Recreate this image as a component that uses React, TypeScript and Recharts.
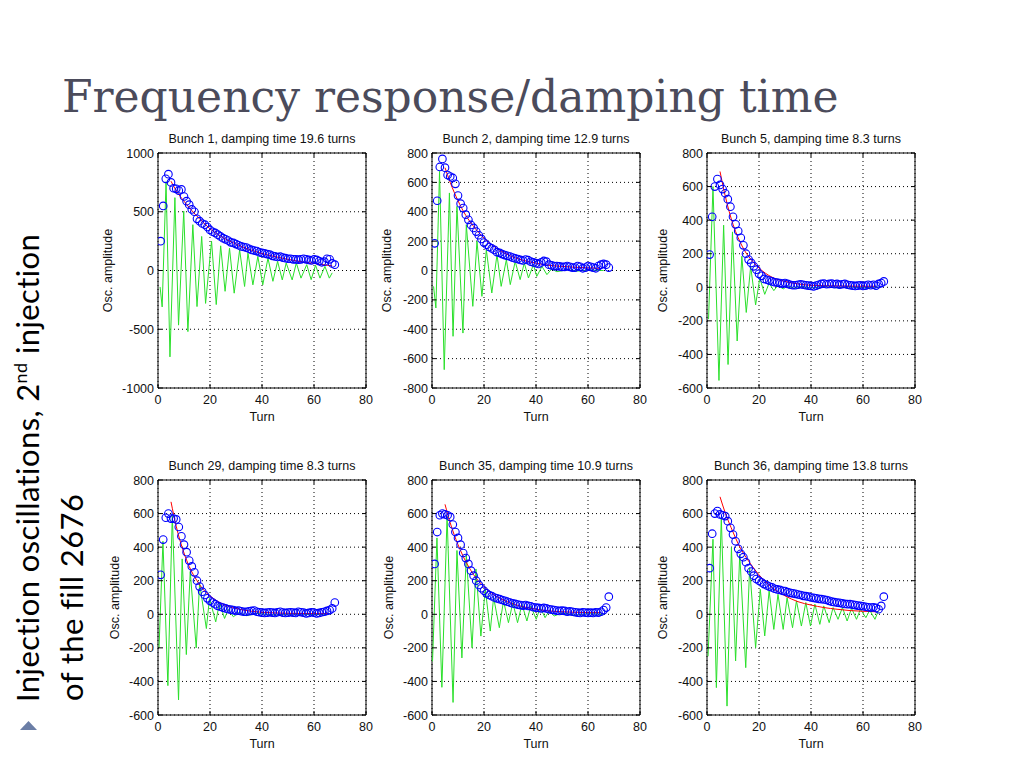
import React from 'react';
import { CartesianGrid, ComposedChart, Line, ReferenceArea, XAxis, YAxis } from 'recharts';

// ---------- data ----------

const TURNS = [
  1, 2, 3, 4, 5, 6, 7, 8, 9, 10, 11, 12, 13, 14, 15, 16, 17, 18, 19, 20,
  21, 22, 23, 24, 25, 26, 27, 28, 29, 30, 31, 32, 33, 34, 35, 36, 37, 38, 39, 40,
  41, 42, 43, 44, 45, 46, 47, 48, 49, 50, 51, 52, 53, 54, 55, 56, 57, 58, 59, 60,
  61, 62, 63, 64, 65, 66, 67, 68,
];
const X_TICKS = [0, 20, 40, 60, 80];
const Y_TICKS_1000 = [-1000, -500, 0, 500, 1000];
const Y_TICKS_800 = [-800, -600, -400, -200, 0, 200, 400, 600, 800];
const Y_TICKS_600 = [-600, -400, -200, 0, 200, 400, 600, 800];

// Bunch 1
const B1_ENV = [
  250, 550, 780, 820, 750, 700, 695, 680, 690, 630, 590, 560, 520, 500, 440, 420, 400, 390, 370, 345,
  330, 320, 305, 290, 275, 265, 255, 240, 235, 225, 215, 205, 200, 195, 185, 175, 170, 165, 155, 150,
  145, 140, 135, 125, 120, 115, 118, 110, 105, 100, 100, 95, 95, 92, 95, 100, 95, 90, 85, 95,
  90, 80, 70, 75, 100, 95, 60, 50,
];
const B1_OSC_T = [
  0.8, 1.6, 3.1, 4.6, 6.5, 7.9, 9.9, 11.5, 13.4, 15, 16.8, 18.3, 20.6, 22.4, 24.1, 25.8, 27.5, 29.3, 31.4, 33.3,
  34.6, 36.5, 38.4, 40.3, 42.3, 44.2, 46, 47.8, 49.3, 51.6, 53.2, 55, 57.2, 58.9, 60.6, 62.3, 64.2, 65.9, 67,
];
const B1_OSC_V = [
  -140, -310, 756, -735, 620, -465, 505, -520, 390, -307, 290, -280, 250, -290, 210, -177, 190, -193, 176, -136,
  148, -122, 120, -122, 105, -92, 78, -80, 64, -80, 64, -65, 50, -78, 45, -65, 35, -65, -20,
];
const B1_FIT_T = [5, 7, 10, 13, 16, 20, 25, 30, 35, 40, 45, 50, 55, 60, 65, 67];
const B1_FIT_V = [760, 680, 590, 510, 440, 355, 280, 225, 180, 145, 118, 95, 75, 60, 45, 40];

// Bunch 2
const B2_ENV = [
  185, 475, 705, 760, 700, 650, 640, 630, 590, 510, 455, 425, 380, 345, 310, 290, 265, 240, 215, 190,
  175, 160, 150, 140, 125, 120, 112, 105, 100, 95, 88, 82, 78, 72, 68, 75, 70, 60, 55, 50,
  45, 55, 65, 60, 40, 35, 30, 30, 28, 25, 25, 30, 25, 20, 20, 30, 25, 15, 20, 30,
  25, 20, 15, 30, 40, 45, 40, 20,
];
const B2_OSC_T = [
  0.6, 1.5, 2.9, 4.7, 6.7, 8.1, 9.6, 11.9, 13.2, 15.7, 17.3, 19.2, 20.9, 23, 25, 26.6, 28.6, 30.1, 32, 33.9,
  35.5, 37.1, 39, 40.3, 42.3, 44.2, 46, 48, 52, 56, 60, 66,
];
const B2_OSC_V = [
  -108, -255, 675, -675, 528, -448, 437, -426, 312, -244, 200, -176, 141, -153, 108, -108, 74, -96, 62, -62,
  51, -51, 40, -40, 28, -28, 10, -8, 5, -4, 3, 0,
];
const B2_FIT_T = [5, 7, 10, 13, 16, 20, 25, 30, 35, 40, 45, 50, 55, 60, 65];
const B2_FIT_V = [700, 600, 475, 375, 300, 220, 150, 100, 70, 50, 35, 28, 22, 18, 15];

// Bunch 5
const B5_ENV = [
  195, 420, 600, 645, 610, 585, 560, 525, 480, 420, 375, 335, 295, 250, 200, 165, 145, 125, 105, 80,
  68, 50, 45, 40, 35, 30, 28, 25, 22, 25, 20, 15, 12, 12, 15, 18, 15, 12, 10, 8,
  5, 10, 15, 20, 22, 18, 20, 22, 18, 20, 15, 18, 20, 15, 12, 10, 8, 10, 12, 8,
  10, 15, 12, 15, 10, 20, 25, 35,
];
const B5_OSC_T = [
  0.6, 2.3, 4.6, 6.4, 8.1, 9.8, 11.6, 13.4, 15.1, 16.8, 18.7, 20.3, 22.2, 23.9, 25.7, 27.3, 29.3, 31, 33, 36,
  40, 45, 50, 55, 60, 66,
];
const B5_OSC_V = [
  -190, 600, -555, 370, -460, 330, -320, 185, -150, 125, -105, 55, -42, 25, -20, 12, -10, 8, -6, 5,
  -4, 4, -3, 3, -3, 2,
];
const B5_FIT_T = [5, 7, 10, 12, 15, 17, 20, 25, 30, 35, 40, 50, 60, 65];
const B5_FIT_V = [690, 545, 375, 295, 205, 165, 115, 60, 35, 20, 12, 8, 6, 6];

// Bunch 29
const B29_ENV = [
  235, 445, 575, 600, 570, 570, 565, 520, 465, 415, 370, 320, 285, 250, 200, 165, 135, 115, 95, 80,
  70, 60, 50, 45, 40, 35, 30, 28, 25, 20, 22, 18, 15, 15, 18, 20, 22, 15, 12, 10,
  8, 10, 12, 10, 8, 12, 15, 10, 8, 10, 12, 10, 8, 15, 12, 10, 5, 8, 12, 10,
  5, 8, 12, 15, 20, 25, 35, 70,
];
const B29_OSC_T = [
  0.4, 1.9, 3.8, 5.5, 7.9, 9.3, 10.9, 12.4, 14.7, 16, 18.6, 19.8, 22.2, 23.7, 25.6, 27, 29, 31, 34, 38,
  45, 52, 60, 66,
];
const B29_OSC_V = [
  -200, 435, -425, 590, -510, 330, -240, 255, -200, 185, -85, 95, -45, 70, -25, 30, -15, 10, -8, 5,
  -4, 3, -2, 2,
];
const B29_FIT_T = [5, 7, 10, 12, 15, 17, 20, 25, 30, 35, 40, 50, 60, 65];
const B29_FIT_V = [670, 525, 365, 285, 200, 155, 110, 60, 35, 20, 12, 6, 4, 4];

// Bunch 35
const B35_ENV = [
  300, 490, 590, 600, 595, 590, 580, 535, 490, 455, 415, 365, 335, 300, 260, 230, 200, 175, 155, 140,
  125, 115, 108, 100, 95, 90, 85, 80, 75, 70, 65, 62, 58, 55, 52, 55, 50, 48, 42, 40,
  38, 35, 38, 35, 30, 28, 25, 22, 20, 22, 20, 15, 18, 15, 12, 10, 8, 12, 10, 8,
  10, 8, 12, 10, 15, 25, 40, 105,
];
const B35_OSC_T = [
  0.2, 1.9, 3.8, 5.8, 8.1, 9.6, 11.5, 13.2, 15.4, 16.9, 18.8, 20.5, 22.4, 23.7, 25.9, 27.5, 29.4, 31.1, 32.9, 34.6,
  36.5, 38, 40.1, 41.6, 43.5, 45, 47, 50, 55, 60, 66,
];
const B35_OSC_V = [
  -280, 455, -435, 585, -525, 380, -260, 355, -200, 270, -130, 150, -100, 100, -80, 80, -50, 70, -50, 60,
  -40, 50, -30, 40, -20, 20, -10, 8, -5, 4, 0,
];
const B35_FIT_T = [5, 7, 10, 12, 15, 17, 20, 25, 30, 35, 40, 45, 50, 55, 60, 65];
const B35_FIT_V = [655, 545, 415, 345, 260, 215, 165, 105, 68, 45, 30, 20, 15, 12, 10, 10];

// Bunch 36
const B36_ENV = [
  275, 480, 600, 615, 595, 590, 585, 555, 515, 475, 435, 390, 360, 340, 310, 275, 255, 230, 210, 200,
  190, 180, 172, 165, 160, 152, 148, 145, 140, 138, 132, 128, 125, 122, 118, 115, 110, 108, 105, 100,
  98, 95, 92, 90, 88, 85, 80, 75, 72, 70, 68, 65, 62, 60, 60, 58, 55, 52, 50, 48,
  45, 42, 40, 42, 38, 30, 50, 105,
];
const B36_OSC_T = [
  0.4, 2.3, 3.6, 5.5, 7.7, 9.4, 11, 12.6, 14.9, 16.4, 18.7, 20.5, 22.2, 23.9, 25.7, 27.3, 29.3, 30.8, 32.9, 34.4,
  36.3, 38, 39.8, 41.5, 43.4, 44.9, 47, 48.5, 50.4, 52.1, 53.9, 55.6, 57.5, 59, 61.1, 62.6, 64.6, 65.9,
];
const B36_OSC_V = [
  -250, 447, -437, 577, -547, 398, -278, 358, -318, 278, -199, 149, -129, 139, -90, 119, -90, 99, -80, 80,
  -70, 70, -70, 60, -60, 50, -50, 40, -30, 40, -40, 36, -30, 30, -20, 24, -30, 20,
];
const B36_FIT_T = [5, 7, 10, 12, 15, 17, 20, 25, 30, 35, 40, 45, 50, 55, 60, 65];
const B36_FIT_V = [700, 605, 490, 420, 340, 295, 235, 160, 110, 75, 55, 40, 30, 22, 18, 15];

// ---------- layout ----------

const PLOT_W = 208;
const PLOT_H = 235;
const M_TOP = 25;
const M_RIGHT = 12;
const Y_W = 60;
const X_H = 35;
const AX_FONT = '"Liberation Sans", Arial, sans-serif';

function pairs(t: number[], v: number[]) {
  return t.map((x, i) => ({ t: x, v: v[i] }));
}

const XTick = (props: any) => {
  const { x, y, payload } = props;
  return (
    <g>
      <line x1={x} x2={x} y1={y} y2={y - 4} stroke="#000" />
      <line x1={x} x2={x} y1={y - PLOT_H} y2={y - PLOT_H + 4} stroke="#000" />
      <text x={x} y={y + 15.5} textAnchor="middle" fontSize={12.5} fontFamily={AX_FONT} fill="#111">
        {payload.value}
      </text>
    </g>
  );
};

const YTick = (props: any) => {
  const { x, y, payload } = props;
  return (
    <g>
      <line x1={x} x2={x + 4} y1={y} y2={y} stroke="#000" />
      <line x1={x + PLOT_W} x2={x + PLOT_W - 4} y1={y} y2={y} stroke="#000" />
      <text x={x - 4} y={y + 4.5} textAnchor="end" fontSize={12.5} fontFamily={AX_FONT} fill="#111">
        {payload.value}
      </text>
    </g>
  );
};

interface SubplotProps {
  left: number;
  top: number;
  yDomain: [number, number];
  yTicks: number[];
  env: number[];
  oscT: number[];
  oscV: number[];
  fitT: number[];
  fitV: number[];
}

const Subplot: React.FC<SubplotProps> = ({ left, top, yDomain, yTicks, env, oscT, oscV, fitT, fitV }) => (
  <div style={{ position: 'absolute', left: left - Y_W, top: top - M_TOP }}>
    <ComposedChart
      width={Y_W + PLOT_W + M_RIGHT}
      height={M_TOP + PLOT_H + X_H}
      margin={{ top: M_TOP, right: M_RIGHT, bottom: 0, left: 0 }}
    >
      <CartesianGrid stroke="#000" strokeDasharray="1 3" />
      <XAxis
        type="number"
        dataKey="t"
        domain={[0, 80]}
        ticks={X_TICKS}
        interval={0}
        height={X_H}
        axisLine={false}
        tickLine={false}
        tickSize={0}
        tickMargin={0}
        tick={<XTick />}
        allowDataOverflow
      />
      <YAxis
        type="number"
        domain={yDomain}
        ticks={yTicks}
        interval={0}
        width={Y_W}
        axisLine={false}
        tickLine={false}
        tickSize={0}
        tickMargin={0}
        tick={<YTick />}
        allowDataOverflow
      />
      <Line
        data={pairs(oscT, oscV)}
        dataKey="v"
        type="linear"
        stroke="#2be02b"
        strokeWidth={1}
        dot={false}
        activeDot={false}
        isAnimationActive={false}
      />
      <Line
        data={pairs(TURNS, env)}
        dataKey="v"
        stroke="none"
        dot={{ r: 3.8, stroke: '#0000ff', strokeWidth: 1.1, fill: 'none' }}
        activeDot={false}
        isAnimationActive={false}
      />
      <Line
        data={pairs(fitT, fitV)}
        dataKey="v"
        type="monotone"
        stroke="#ff0000"
        strokeWidth={1}
        dot={false}
        activeDot={false}
        isAnimationActive={false}
      />
      <ReferenceArea x1={0} x2={80} y1={yDomain[0]} y2={yDomain[1]} fill="none" stroke="#000" strokeWidth={1} />
    </ComposedChart>
  </div>
);

const PLOTS = [
  { title: 'Bunch 1, damping time 19.6 turns', left: 158, top: 153, yDomain: [-1000, 1000] as [number, number], yTicks: Y_TICKS_1000, gap: 50, env: B1_ENV, oscT: B1_OSC_T, oscV: B1_OSC_V, fitT: B1_FIT_T, fitV: B1_FIT_V },
  { title: 'Bunch 2, damping time 12.9 turns', left: 432, top: 153, yDomain: [-800, 800] as [number, number], yTicks: Y_TICKS_800, gap: 45, env: B2_ENV, oscT: B2_OSC_T, oscV: B2_OSC_V, fitT: B2_FIT_T, fitV: B2_FIT_V },
  { title: 'Bunch 5, damping time 8.3 turns', left: 707, top: 153, yDomain: [-600, 800] as [number, number], yTicks: Y_TICKS_600, gap: 44, env: B5_ENV, oscT: B5_OSC_T, oscV: B5_OSC_V, fitT: B5_FIT_T, fitV: B5_FIT_V },
  { title: 'Bunch 29, damping time 8.3 turns', left: 158, top: 480, yDomain: [-600, 800] as [number, number], yTicks: Y_TICKS_600, gap: 43, env: B29_ENV, oscT: B29_OSC_T, oscV: B29_OSC_V, fitT: B29_FIT_T, fitV: B29_FIT_V },
  { title: 'Bunch 35, damping time 10.9 turns', left: 432, top: 480, yDomain: [-600, 800] as [number, number], yTicks: Y_TICKS_600, gap: 43, env: B35_ENV, oscT: B35_OSC_T, oscV: B35_OSC_V, fitT: B35_FIT_T, fitV: B35_FIT_V },
  { title: 'Bunch 36, damping time 13.8 turns', left: 707, top: 480, yDomain: [-600, 800] as [number, number], yTicks: Y_TICKS_600, gap: 44, env: B36_ENV, oscT: B36_OSC_T, oscV: B36_OSC_V, fitT: B36_FIT_T, fitV: B36_FIT_V },
];

export default function App() {
  return (
    <div style={{ position: 'absolute', left: 0, top: 0, width: 1024, height: 768, background: '#fff', overflow: 'hidden' }}>
      {PLOTS.map((p) => (
        <Subplot key={p.title} {...p} />
      ))}
      <svg width={1024} height={768} style={{ position: 'absolute', left: 0, top: 0, pointerEvents: 'none' }}>
        <text x={62} y={112} fontFamily='"DejaVu Serif", serif' fontSize={44} fill="#4b4b5b">
          Frequency response/damping time
        </text>

        <text transform="translate(38.5,702) rotate(-90)" fontFamily="Lato, sans-serif" fontSize={31} letterSpacing={0.4} fill="#000">
          Injection oscillations, 2<tspan fontSize={18} dy={-12}>nd</tspan>
          <tspan dy={12}> injection</tspan>
        </text>
        <text transform="translate(83,701) rotate(-90)" fontFamily="Lato, sans-serif" fontSize={31} letterSpacing={0.4} fill="#000">
          of the fill 2676
        </text>
        <polygon points="20,730 37,730 28.5,721" fill="#6b7ea6" />

        {PLOTS.map((p) => (
          <g key={p.title} fontFamily={AX_FONT} fontSize={12.5} fill="#111">
            <text x={p.left + PLOT_W / 2} y={p.top - 10} textAnchor="middle">
              {p.title}
            </text>
            <text x={p.left + PLOT_W / 2} y={p.top + PLOT_H + 32.5} textAnchor="middle">
              Turn
            </text>
            <text
              x={p.left - p.gap}
              y={p.top + PLOT_H / 2}
              textAnchor="middle"
              dominantBaseline="central"
              transform={`rotate(-90 ${p.left - p.gap} ${p.top + PLOT_H / 2})`}
            >
              Osc. amplitude
            </text>
          </g>
        ))}
      </svg>
    </div>
  );
}
